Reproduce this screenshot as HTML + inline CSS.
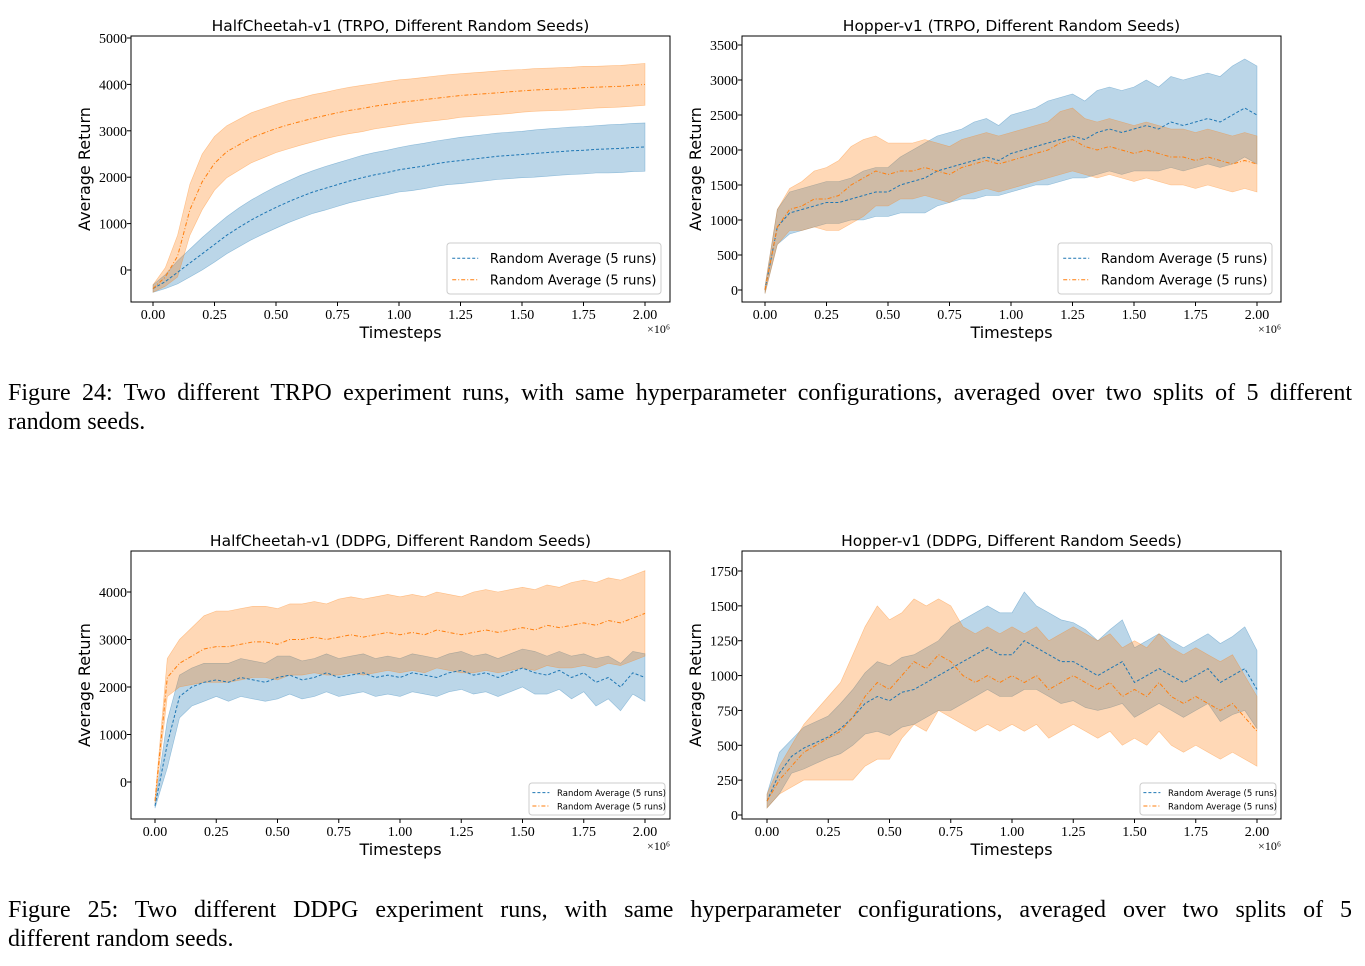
<!DOCTYPE html>
<html><head><meta charset="utf-8">
<style>
body{margin:0;background:#fff;width:1365px;height:966px;overflow:hidden;position:relative}
.cap{position:absolute;left:8px;font-family:"Liberation Serif",serif;font-size:24px;line-height:29px;color:#000;width:1344px}
.cap .l1{display:block;text-align:justify;text-align-last:justify;white-space:nowrap}
svg{position:absolute;left:0;top:0}
</style></head><body>
<svg id="fig" width="1365" height="966"></svg>
<div class="cap" style="top:379px"><span class="l1">Figure 24: Two different TRPO experiment runs, with same hyperparameter configurations, averaged over two splits of 5 different</span>random seeds.</div>
<div class="cap" style="top:896px"><span class="l1">Figure 25: Two different DDPG experiment runs, with same hyperparameter configurations, averaged over two splits of 5</span>different random seeds.</div>
<script>
const xTicks=[0,0.25,0.5,0.75,1.0,1.25,1.5,1.75,2.0];
const xTickLabels=["0.00","0.25","0.50","0.75","1.00","1.25","1.50","1.75","2.00"];
const legendLabels=["Random Average (5 runs)","Random Average (5 runs)"];
const c1BlueMean=[-400,-250,-50,150,350,550,750,920,1080,1220,1350,1470,1580,1680,1760,1840,1920,1990,2050,2100,2160,2200,2240,2290,2330,2360,2390,2420,2450,2470,2490,2510,2530,2550,2570,2580,2600,2610,2620,2640,2650];
const c1BlueSpread=[80,150,250,300,350,380,400,420,430,440,450,450,460,460,470,470,470,480,480,480,480,490,490,490,490,500,500,500,500,500,500,510,510,510,510,510,510,520,520,520,520];
const c1OrangeMean=[-400,-150,300,1300,1900,2300,2550,2700,2850,2950,3050,3130,3200,3270,3330,3390,3440,3480,3530,3570,3610,3640,3670,3700,3730,3760,3780,3800,3820,3840,3860,3880,3890,3900,3910,3930,3940,3950,3960,3980,4000];
const c1OrangeSpread=[80,200,450,550,600,580,560,550,540,530,520,520,510,510,500,500,500,500,490,490,490,480,480,480,480,470,470,470,470,470,460,460,460,460,460,460,450,450,450,450,450];
const c1YTicks=[0,1000,2000,3000,4000,5000];
const c2BlueMean=[0,900,1100,1150,1200,1250,1250,1300,1350,1400,1400,1500,1550,1600,1700,1750,1800,1850,1900,1850,1950,2000,2050,2100,2150,2200,2150,2250,2300,2250,2300,2350,2300,2400,2350,2400,2450,2400,2500,2600,2500];
const c2BlueSpread=[50,250,300,300,300,300,300,300,350,350,350,400,450,500,500,500,500,550,550,500,550,550,550,600,600,600,550,600,600,600,600,650,600,650,650,650,650,650,700,700,700];
const c2OrangeMean=[0,900,1150,1200,1300,1300,1350,1500,1600,1700,1650,1700,1700,1750,1700,1650,1750,1800,1850,1800,1850,1900,1950,2000,2100,2150,2050,2000,2050,2000,1950,2000,1950,1900,1900,1850,1900,1850,1800,1850,1800];
const c2OrangeSpread=[50,250,300,350,400,450,500,550,550,500,450,400,400,400,400,400,400,400,400,400,400,400,400,400,450,450,400,400,400,400,400,400,400,400,400,400,400,400,400,400,400];
const c2YTicks=[0,500,1000,1500,2000,2500,3000,3500];
const c3BlueMean=[-500,800,1800,2000,2100,2150,2100,2200,2150,2100,2200,2250,2150,2200,2300,2200,2250,2300,2200,2250,2200,2300,2250,2200,2300,2350,2250,2300,2200,2300,2400,2300,2250,2350,2200,2300,2100,2200,2000,2300,2200];
const c3BlueSpread=[50,500,450,400,400,350,400,400,400,400,450,400,400,400,400,400,400,400,400,400,400,400,400,400,400,400,400,400,400,400,400,450,400,400,450,400,500,450,500,450,500];
const c3OrangeMean=[-400,2200,2500,2650,2800,2850,2850,2900,2950,2950,2900,3000,3000,3050,3000,3050,3100,3050,3100,3150,3100,3150,3100,3200,3150,3100,3150,3200,3150,3200,3250,3200,3300,3250,3300,3350,3300,3400,3350,3450,3550];
const c3OrangeSpread=[50,400,500,600,700,750,750,750,750,750,750,750,750,750,750,800,800,800,800,800,800,800,800,800,800,800,850,850,850,850,850,850,850,850,900,900,900,900,900,900,900];
const c3YTicks=[0,1000,2000,3000,4000];
const c4BlueMean=[100,300,420,480,520,560,620,700,800,850,820,880,900,950,1000,1050,1100,1150,1200,1150,1150,1250,1200,1150,1100,1100,1050,1000,1050,1100,950,1000,1050,1000,950,1000,1050,950,1000,1050,900];
const c4BlueSpread=[50,150,120,150,150,150,180,200,220,250,250,250,250,250,250,300,300,300,300,300,300,350,300,300,300,280,280,250,280,300,250,250,250,250,250,250,250,280,280,300,280];
const c4OrangeMean=[100,250,350,450,500,550,600,700,850,950,900,1000,1100,1050,1150,1100,1000,950,1000,950,1000,950,1000,900,950,1000,950,900,950,850,900,850,950,850,800,850,800,750,800,700,600];
const c4OrangeSpread=[50,100,150,200,250,300,350,450,500,550,500,450,450,450,400,400,350,350,350,350,350,350,350,350,350,350,350,350,350,350,350,350,350,350,350,350,350,350,350,300,250];
const c4YTicks=[0,250,500,750,1000,1250,1500,1750];

const NS="http://www.w3.org/2000/svg";
const svg=document.getElementById('fig');
function mk(tag,attrs,parent){const e=document.createElementNS(NS,tag);for(const k in attrs)e.setAttribute(k,attrs[k]);(parent||svg).appendChild(e);return e;}
const BLUE="#1f77b4",ORANGE="#ff7f0e";
function chart(o){
  const g=mk('g',{});
  
  
  const sx=v=>o.x0+(v-0)*(o.x2-o.x0)/2;
  const sy=v=>o.yA+(v-o.vA)*(o.yB-o.yA)/(o.vB-o.vA);
  const n=o.series[0].mean.length;
  const tx=i=>2*i/(n-1);
  o.series.forEach((s,si)=>{
    let up=[],lo=[];
    for(let i=0;i<n;i++){up.push(sx(tx(i)).toFixed(1)+','+sy(s.mean[i]+s.spread[i]).toFixed(1));lo.push(sx(tx(i)).toFixed(1)+','+sy(s.mean[i]-s.spread[i]).toFixed(1));}
    const band=mk('polygon',{points:up.concat(lo.reverse()).join(' '),fill:s.color,'fill-opacity':0.3,stroke:s.color,'stroke-opacity':0.4,'stroke-width':0.6},g);
    
    
  });
  o.series.forEach((s,si)=>{
    let pts=[];for(let i=0;i<n;i++)pts.push(sx(tx(i)).toFixed(1)+','+sy(s.mean[i]).toFixed(1));
    const l=mk('polyline',{points:pts.join(' '),fill:'none',stroke:s.color,'stroke-width':1,'stroke-dasharray':si?'4,2,1,2':'3,2'},g);
    
    
  });
  const box=mk('rect',{x:o.bx,y:o.by,width:o.bw,height:o.bh,fill:'none',stroke:'#000','stroke-width':1},g);
  
  
  xTicks.forEach((v,i)=>{
    const x=sx(v);
    mk('line',{x1:x,x2:x,y1:o.by+o.bh,y2:o.by+o.bh+4,stroke:'#000'},g);
    const t=mk('text',{x:x,y:o.by+o.bh+17,'text-anchor':'middle','font-family':'Liberation Serif,serif','font-size':14},g);
    t.textContent=xTickLabels[i];
    
    
  });
  o.yt.forEach(v=>{
    const y=sy(v);
    mk('line',{x1:o.bx-4,x2:o.bx,y1:y,y2:y,stroke:'#000'},g);
    const t=mk('text',{x:o.bx-4,y:y+5,'text-anchor':'end','font-family':'Liberation Serif,serif','font-size':14},g);
    t.textContent=String(v);
    
    
  });
  const mul=mk('text',{x:o.bx+o.bw,y:o.by+o.bh+31,'text-anchor':'end','font-family':'Liberation Serif,serif','font-size':12},g);
  mul.textContent='×10⁶';
  
  
  const xt=mk('text',{x:o.bx+o.bw/2,y:o.by+o.bh+36,'text-anchor':'middle','font-family':'DejaVu Sans,sans-serif','font-size':16},g);
  xt.textContent='Timesteps';
  
  
  const cy=o.by+o.bh/2;
  const yt=mk('text',{x:0,y:0,transform:`translate(${o.bx-41},${cy}) rotate(-90)`,'text-anchor':'middle','font-family':'DejaVu Sans,sans-serif','font-size':16},g);
  yt.textContent='Average Return';
  
  
  const tt=mk('text',{x:o.bx+o.bw/2,y:o.by-5,'text-anchor':'middle','font-family':'DejaVu Sans,sans-serif','font-size':15.5},g);
  tt.textContent=o.title;
  
  
  const L=o.leg;
  const lg=mk('g',{},g);
  
  
  mk('rect',{x:L.x,y:L.y,width:L.w,height:L.h,rx:3,fill:'#fff','fill-opacity':0.8,stroke:'#ccc'},lg);
  [BLUE,ORANGE].forEach((c,i)=>{
    const yy=L.y+L.h*(i===0?0.3:0.72);
    mk('line',{x1:L.x+L.fs*0.4,x2:L.x+L.fs*2.4,y1:yy,y2:yy,stroke:c,'stroke-width':1,'stroke-dasharray':i?'4,2,1,2':'3,2'},lg);
    const t=mk('text',{x:L.x+L.fs*3.3,y:yy+L.fs*0.38,'font-family':'DejaVu Sans,sans-serif','font-size':L.fs},lg);
    t.textContent=legendLabels[i];
    
    
  });
}
chart({name:'halfcheetah-trpo-chart',title:'HalfCheetah-v1 (TRPO, Different Random Seeds)',bx:131,by:36,bw:539,bh:266,x0:153,x2:645,vA:0,yA:270,vB:5000,yB:38,yt:c1YTicks,
  series:[{mean:c1BlueMean,spread:c1BlueSpread,color:BLUE},{mean:c1OrangeMean,spread:c1OrangeSpread,color:ORANGE}],leg:{x:447,y:243,w:214,h:51,fs:13}});
chart({name:'hopper-trpo-chart',title:'Hopper-v1 (TRPO, Different Random Seeds)',bx:742,by:36,bw:539,bh:266,x0:765,x2:1257,vA:0,yA:290,vB:3500,yB:45,yt:c2YTicks,
  series:[{mean:c2BlueMean,spread:c2BlueSpread,color:BLUE},{mean:c2OrangeMean,spread:c2OrangeSpread,color:ORANGE}],leg:{x:1058,y:243,w:214,h:51,fs:13}});
chart({name:'halfcheetah-ddpg-chart',title:'HalfCheetah-v1 (DDPG, Different Random Seeds)',bx:131,by:551,bw:539,bh:268,x0:155,x2:645,vA:0,yA:782,vB:4000,yB:592,yt:c3YTicks,
  series:[{mean:c3BlueMean,spread:c3BlueSpread,color:BLUE},{mean:c3OrangeMean,spread:c3OrangeSpread,color:ORANGE}],leg:{x:529,y:783,w:136,h:32,fs:8.5}});
chart({name:'hopper-ddpg-chart',title:'Hopper-v1 (DDPG, Different Random Seeds)',bx:742,by:551,bw:539,bh:268,x0:767,x2:1257,vA:0,yA:815,vB:1750,yB:571,yt:c4YTicks,
  series:[{mean:c4BlueMean,spread:c4BlueSpread,color:BLUE},{mean:c4OrangeMean,spread:c4OrangeSpread,color:ORANGE}],leg:{x:1140,y:783,w:136,h:32,fs:8.5}});
</script>
</body></html>
